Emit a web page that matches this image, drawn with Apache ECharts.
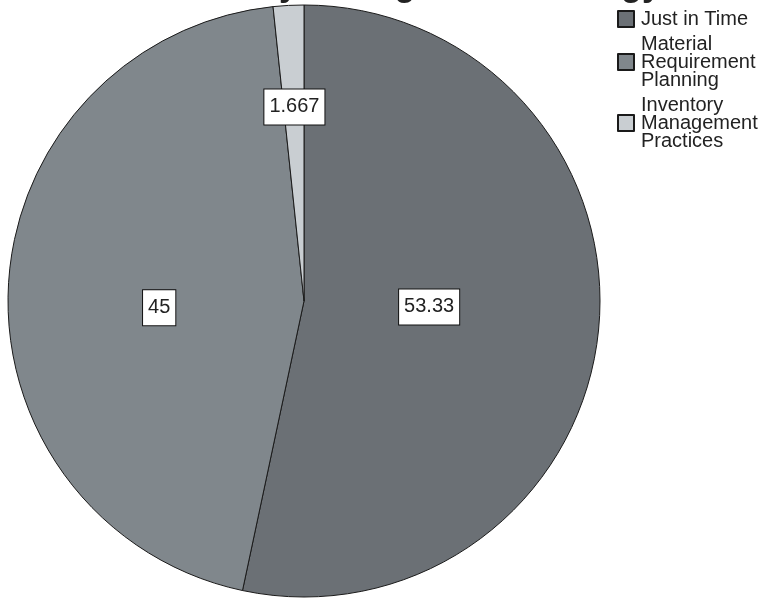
<!DOCTYPE html>
<html>
<head>
<meta charset="utf-8">
<script src="https://cdn.jsdelivr.net/npm/echarts@6/dist/echarts.min.js"></script>
<style>
  html, body { margin: 0; padding: 0; background: #fff; }
  #main { width: 762px; height: 602px; }
</style>
</head>
<body>
<div id="main"></div>
<script>
// data
var categories = ['Just in Time', 'Material\nRequirement\nPlanning', 'Inventory\nManagement\nPractices'];
var values = [53.33, 45, 1.667];
var labels = ['53.33', '45', '1.667'];

// grey shades, where the value boxes sit (fraction of radius) and small nudges
var colors = ['#6b7075', '#80878c', '#c9ced2'];
var labelRadius = [0.41, 0.52, 0.67];
var labelNudge = [[2, -7], [12, 15], [1, 8]];

var center = [304, 301];

var myChart = echarts.init(document.getElementById('main'));

myChart.setOption({
    animation: false,
    title: {
        text: 'Inventory Management Strategy',
        left: 140,
        top: -35,
        textStyle: {
            fontFamily: 'Liberation Sans, Arial',
            fontSize: 34,
            fontWeight: 'bold',
            color: '#222'
        }
    },
    legend: {
        orient: 'vertical',
        left: 612,
        top: 4,
        itemGap: 5,
        itemWidth: 16,
        itemHeight: 16,
        icon: 'rect',
        textStyle: {
            fontFamily: 'Liberation Sans, Arial',
            fontSize: 20,
            lineHeight: 18,
            color: '#222',
            padding: [0, 0, 0, 2]
        },
        data: categories
    },
    series: [
        {
            type: 'pie',
            center: center,
            radius: 296,
            startAngle: 90,
            clockwise: true,
            avoidLabelOverlap: false,
            itemStyle: {
                borderColor: '#1a1a1a',
                borderWidth: 1
            },
            label: {
                show: true,
                position: 'inside',
                fontFamily: 'Liberation Sans, Arial',
                fontSize: 20,
                color: '#222',
                backgroundColor: '#fff',
                borderColor: '#111',
                borderWidth: 1,
                padding: [8, 5, 7, 5],
                formatter: function (p) { return labels[p.dataIndex]; }
            },
            labelLine: { show: false },
            labelLayout: function (p) {
                var r = p.labelRect;
                var cx = r.x + r.width / 2 - center[0];
                var cy = r.y + r.height / 2 - center[1];
                var f = labelRadius[p.dataIndex] / 0.5;
                var n = labelNudge[p.dataIndex];
                return { dx: cx * (f - 1) + n[0], dy: cy * (f - 1) + n[1] };
            },
            data: categories.map(function (c, i) {
                return { name: c, value: values[i], itemStyle: { color: colors[i] } };
            })
        }
    ]
});
</script>
</body>
</html>
